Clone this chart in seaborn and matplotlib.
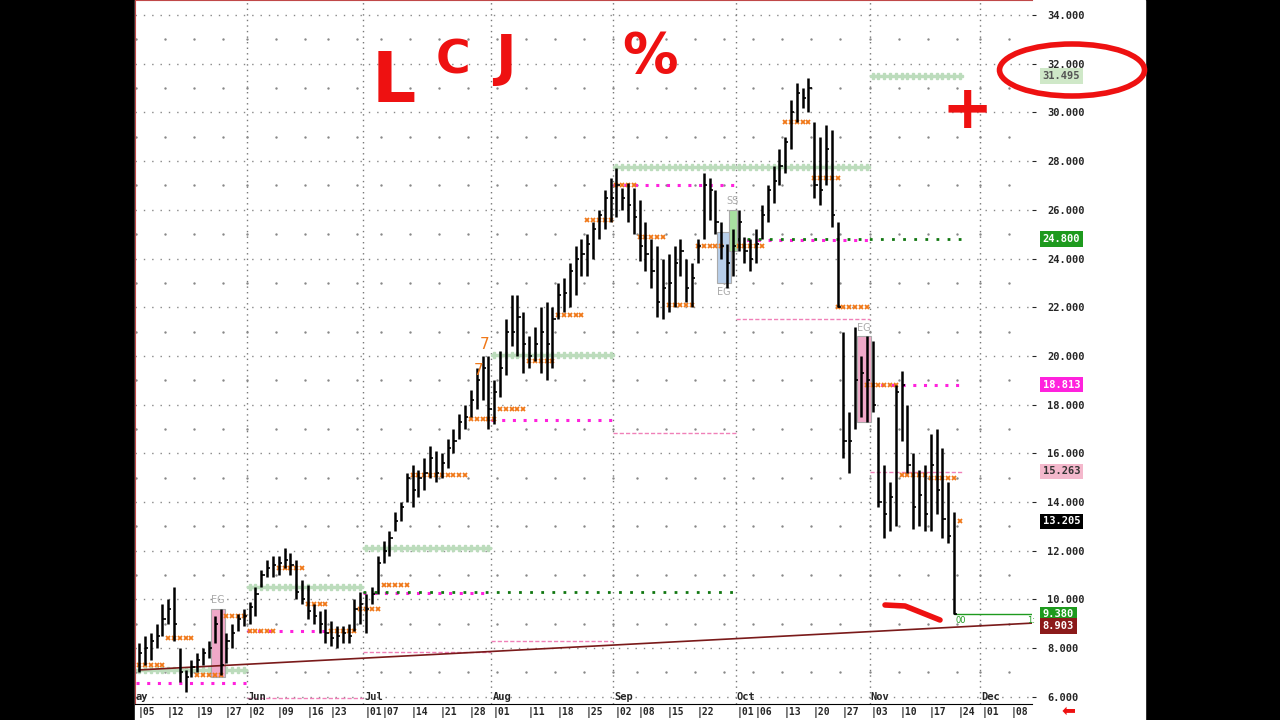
import numpy as np
import pandas as pd
import matplotlib
matplotlib.use("Agg")
import matplotlib.pyplot as plt
from matplotlib.patches import Rectangle, Ellipse
import seaborn as sns

sns.set_style("white")

# ---- data -------------------------------------------------------------
holidays = ["2025-05-26", "2025-06-19", "2025-07-04", "2025-09-01", "2025-11-27"]

# daily (high, low, close), one list per week
weeks = [
    [(8.2, 7.0, 7.8), (8.5, 7.3, 8.0), (8.6, 7.5, 8.3), (9.0, 8.0, 8.5), (9.8, 8.5, 9.2)],
    [(10.0, 9.0, 9.6), (10.5, 8.3, 9.0), (8.0, 6.6, 7.0), (7.1, 6.2, 6.8), (7.5, 6.8, 7.2)],
    [(7.8, 7.0, 7.5), (8.0, 7.3, 7.8), (8.3, 7.6, 8.0), (9.3, 8.2, 9.0), (9.6, 6.9, 7.3)],
    [(8.6, 7.4, 8.3), (9.0, 8.0, 8.6), (9.4, 8.7, 9.2), (9.6, 8.9, 9.3)],
    [(9.9, 9.0, 9.7), (10.5, 9.3, 10.2), (11.2, 10.5, 11.0), (11.6, 10.9, 11.3), (11.8, 10.9, 11.4)],
    [(11.8, 11.0, 11.5), (12.1, 11.3, 11.6), (11.9, 11.0, 11.4), (11.6, 10.0, 10.3), (10.8, 9.8, 10.0)],
    [(10.6, 9.2, 9.5), (9.8, 9.0, 9.3), (9.5, 8.6, 9.0), (9.6, 8.2, 8.6)],
    [(9.1, 8.1, 8.4), (8.9, 8.0, 8.5), (8.9, 8.2, 8.6), (9.0, 8.2, 8.5), (10.0, 8.7, 9.6)],
    [(10.3, 9.0, 9.8), (10.2, 8.6, 9.6), (10.5, 9.8, 10.2), (11.8, 10.2, 11.5)],
    [(12.4, 11.5, 12.0), (12.8, 11.8, 12.5), (13.6, 12.8, 13.2), (14.0, 13.2, 13.8), (15.2, 14.0, 15.0)],
    [(15.5, 13.8, 14.5), (15.3, 14.2, 15.0), (15.8, 14.5, 15.2), (16.3, 15.0, 15.8), (16.1, 14.8, 15.2)],
    [(16.0, 15.0, 15.6), (16.6, 15.4, 16.2), (17.0, 16.0, 16.5), (17.6, 16.6, 17.3), (18.0, 17.0, 17.5)],
    [(18.6, 17.5, 18.2), (19.5, 17.8, 19.0), (20.0, 18.2, 19.5), (20.0, 17.0, 17.8), (19.0, 17.2, 18.5)],
    [(20.2, 18.3, 19.5), (21.5, 19.2, 21.0), (22.5, 20.4, 21.0), (22.5, 20.0, 21.6), (21.8, 19.3, 20.5)],
    [(20.8, 19.5, 20.0), (21.2, 19.8, 20.5), (22.0, 19.3, 21.0), (22.2, 19.0, 20.5), (22.0, 19.5, 21.5)],
    [(23.0, 21.5, 22.5), (23.2, 21.8, 22.6), (23.8, 22.0, 23.5), (24.5, 22.5, 24.0), (24.8, 23.3, 24.2)],
    [(25.0, 23.3, 24.6), (25.5, 24.0, 25.2), (26.0, 24.8, 25.8), (26.8, 25.2, 26.5), (27.3, 25.5, 26.5)],
    [(27.7, 25.7, 27.0), (26.9, 26.0, 26.5), (27.1, 25.5, 26.2), (26.9, 25.0, 25.7)],
    [(26.4, 23.9, 24.5), (25.5, 23.5, 24.2), (24.8, 22.8, 23.5), (24.5, 21.6, 22.2), (24.0, 21.5, 22.8)],
    [(24.2, 21.8, 23.0), (24.5, 22.0, 23.8), (24.8, 23.3, 24.3), (24.0, 22.2, 22.8), (23.8, 22.0, 23.2)],
    [(24.8, 23.8, 24.5), (27.5, 24.8, 27.0), (27.3, 25.6, 26.8), (26.8, 25.0, 25.5), (25.5, 24.0, 24.5)],
    [(24.6, 22.8, 23.8), (25.2, 23.3, 24.5), (26.0, 24.3, 25.5), (24.9, 23.8, 24.3), (24.8, 23.5, 24.0)],
    [(25.2, 23.8, 24.6), (26.2, 24.8, 25.8), (27.0, 25.5, 26.8), (27.8, 26.3, 27.2), (28.5, 27.0, 27.8)],
    [(29.0, 27.5, 28.8), (30.5, 28.5, 30.0), (31.2, 29.6, 30.8), (31.0, 30.2, 30.6), (31.4, 30.0, 31.0)],
    [(29.6, 26.5, 27.0), (29.0, 26.2, 26.8), (29.5, 27.0, 28.5), (29.3, 25.3, 25.8), (25.5, 22.0, 22.0)],
    [(21.0, 15.8, 16.5), (17.7, 15.2, 16.5), (21.2, 17.0, 19.0), (20.0, 17.5, 19.3), (20.8, 17.3, 19.0)],
    [(20.6, 17.7, 18.0), (17.5, 13.8, 14.0), (15.5, 12.5, 13.5), (14.8, 12.8, 14.2), (18.8, 13.0, 18.5)],
    [(19.4, 16.5, 18.8), (18.0, 15.2, 15.5), (16.0, 12.9, 13.8), (15.3, 13.0, 14.3), (15.5, 12.8, 13.5)],
    [(16.8, 12.8, 15.5), (17.0, 13.5, 14.5), (16.2, 12.5, 13.3), (14.8, 12.3, 12.6), (13.6, 9.38, 9.38)],
]

# study levels: (start date, end date, price)
orange_x = [("2025-05-05", "2025-05-09", 7.3), ("2025-05-12", "2025-05-16", 8.4),
            ("2025-05-19", "2025-05-23", 6.9), ("2025-05-27", "2025-05-30", 9.3),
            ("2025-06-02", "2025-06-06", 8.7), ("2025-06-09", "2025-06-13", 11.3),
            ("2025-06-16", "2025-06-20", 9.8), ("2025-06-23", "2025-06-27", 8.7),
            ("2025-06-30", "2025-07-03", 9.6), ("2025-07-07", "2025-07-11", 10.6),
            ("2025-07-14", "2025-07-25", 15.1), ("2025-07-28", "2025-08-01", 17.4),
            ("2025-08-04", "2025-08-08", 17.8), ("2025-08-11", "2025-08-15", 19.8),
            ("2025-08-18", "2025-08-22", 21.7), ("2025-08-25", "2025-08-29", 25.6),
            ("2025-09-02", "2025-09-05", 27.0), ("2025-09-08", "2025-09-12", 24.9),
            ("2025-09-15", "2025-09-19", 22.1), ("2025-09-22", "2025-09-26", 24.5),
            ("2025-10-01", "2025-10-07", 24.5), ("2025-10-13", "2025-10-17", 29.6),
            ("2025-10-20", "2025-10-24", 27.3), ("2025-10-24", "2025-10-31", 22.0),
            ("2025-10-31", "2025-11-07", 18.8), ("2025-11-10", "2025-11-14", 15.1),
            ("2025-11-17", "2025-11-21", 15.0), ("2025-11-24", "2025-11-24", 13.2)]
green_plus = [("2025-05-05", "2025-05-30", 7.1), ("2025-06-02", "2025-06-30", 10.5),
              ("2025-07-01", "2025-07-31", 12.1), ("2025-08-01", "2025-08-29", 20.05),
              ("2025-09-02", "2025-09-30", 27.75), ("2025-10-01", "2025-10-31", 27.75),
              ("2025-11-03", "2025-11-24", 31.5)]
magenta_dot = [("2025-05-05", "2025-05-30", 6.55), ("2025-06-02", "2025-06-20", 8.7),
               ("2025-07-01", "2025-07-31", 10.25), ("2025-08-01", "2025-08-29", 17.35),
               ("2025-09-02", "2025-09-30", 27.0), ("2025-10-01", "2025-10-31", 24.75),
               ("2025-11-03", "2025-11-24", 18.8)]
darkgreen_dot = [("2025-07-01", "2025-09-30", 10.3), ("2025-10-01", "2025-11-24", 24.8)]
pink_dash = [("2025-06-02", "2025-06-30", 5.95), ("2025-07-01", "2025-07-31", 7.85),
             ("2025-08-01", "2025-08-29", 8.3), ("2025-09-02", "2025-09-30", 16.85),
             ("2025-10-01", "2025-10-31", 21.5), ("2025-11-03", "2025-11-24", 15.25)]
trend = [("2025-05-05", 7.1), ("2025-12-12", 9.03)]

# boxes: (start date, end date, low, high, colour, label, label on top)
boxes = [("2025-05-22", "2025-05-23", 6.8, 9.6, "#f0a8c8", "EG", True),
         ("2025-09-26", "2025-09-29", 23.0, 25.1, "#b8cfea", "EG", False),
         ("2025-09-30", "2025-09-30", 24.3, 26.0, "#a8e0a0", "SS", True),
         ("2025-10-30", "2025-10-31", 17.3, 20.8, "#f0a8c8", "EG", True)]

right_tags = [(31.495, "#cfe8c8", "#555555"), (24.800, "#1e9a1e", "white"),
              (18.813, "#ff22dd", "white"), (15.263, "#f4b8cc", "#333333"),
              (13.205, "black", "white"), (9.380, "#1e9a1e", "white"),
              (8.903, "#8b1a1a", "white")]

# ---- index helpers ---------------------------------------------------
all_days = pd.bdate_range("2025-05-05", "2025-12-12")
all_days = all_days[~all_days.isin(pd.to_datetime(holidays))]
pos = {d: i for i, d in enumerate(all_days)}
bars = [b for w in weeks for b in w]
n = len(bars)
df = pd.DataFrame(bars, columns=["high", "low", "close"])
df["i"] = np.arange(n)


def ix(s):
    d = pd.Timestamp(s)
    if d in pos:
        return pos[d]
    return all_days.searchsorted(d)


# ---- figure ----------------------------------------------------------
W, H = 1280, 720
fig = plt.figure(figsize=(12.8, 7.2), dpi=100, facecolor="black")
fig.patches.append(Rectangle((135 / W, 0), (1145 - 135) / W, 1, transform=fig.transFigure,
                             facecolor="white", zorder=-10))
ax = fig.add_axes([135 / W, 16 / H, (1032 - 135) / W, 704 / H])
ax.set_facecolor("white")
ax.set_xlim(-0.7, 153.4)
ax.set_ylim(5.7, 34.62)

# grid
for y in range(6, 35, 2):
    ax.axhline(y, color="#888888", lw=1, ls=(0, (1, 5)), zorder=1)
week_starts = [i for i, d in enumerate(all_days) if i == 0 or d.weekday() < all_days[i - 1].weekday()]
month_starts = [i for i, d in enumerate(all_days) if i > 0 and d.month != all_days[i - 1].month]
for m in month_starts:
    ax.axvline(m - 0.5, color="#777777", lw=1, ls=(0, (1, 3)), zorder=1)
gx, gy = np.meshgrid(np.array(week_starts) - 0.5, np.arange(7, 34, 2))
sns.scatterplot(x=gx.ravel(), y=gy.ravel(), ax=ax, color="#888888", s=3, linewidth=0, zorder=1)

# levels
for a, b, p in green_plus:
    xs = np.arange(ix(a), ix(b) + 1)
    ax.plot(xs, np.full(len(xs), p), ls="none", marker="P", ms=4, color="#bcdcbc", zorder=2)
for a, b, p in magenta_dot:
    ax.hlines(p, ix(a) - 0.5, ix(b) + 0.5, color="#ff22dd", lw=2.2, ls=(0, (1, 2.5)), zorder=2)
for a, b, p in darkgreen_dot:
    ax.hlines(p, ix(a) - 0.5, ix(b) + 0.5, color="#117711", lw=2, ls=(0, (1, 3)), zorder=2)
for a, b, p in pink_dash:
    ax.hlines(p, ix(a) - 0.5, ix(b) + 0.5, color="#f080b8", lw=1, ls=(0, (3, 1.5)), zorder=2)
for a, b, p in orange_x:
    xs = np.arange(ix(a), ix(b) + 1)
    ax.plot(xs, np.full(len(xs), p), ls="none", marker="x", ms=3, mew=1.3, color="#f07818", zorder=4)

# trend line
tdf = pd.DataFrame({"i": [ix(t[0]) for t in trend], "p": [t[1] for t in trend]})
sns.lineplot(data=tdf, x="i", y="p", ax=ax, color="#7a1a1a", lw=1.2, zorder=3)
ax.set_xlabel("")
ax.set_ylabel("")

# boxes
for a, b, lo, hi, c, lab, top in boxes:
    x0, x1 = ix(a) - 0.7, ix(b) + 0.7
    ax.add_patch(Rectangle((x0, lo), x1 - x0, hi - lo, facecolor=c, edgecolor="#aaaaaa",
                           lw=0.8, zorder=2.5))
    ax.text((x0 + x1) / 2, hi + 0.15 if top else lo - 0.15, lab, color="#aaaaaa", fontsize=7,
            ha="center", va="bottom" if top else "top", zorder=5)

# bars
ax.vlines(df["i"], df["low"], df["high"], color="black", lw=1.8, zorder=5)
ax.hlines(df["close"], df["i"], df["i"] + 0.55, color="black", lw=1.2, zorder=5)
ax.hlines(9.38, n - 1, 153.4, color="#1e9a1e", lw=1, zorder=4)
ax.text(n - 0.8, 9.3, "00", color="#1e9a1e", fontsize=6, va="top")
ax.text(152.6, 9.3, "1:", color="#1e9a1e", fontsize=6, va="top")
ax.text(ix("2025-07-30") + 0.3, 20.3, "7", color="#f07818", fontsize=11, ha="center", zorder=6)
ax.text(ix("2025-07-29") + 0.3, 19.2, "7", color="#f07818", fontsize=11, ha="center", zorder=6)

# axes styling
for s in ax.spines.values():
    s.set_visible(False)
ax.spines["left"].set_visible(True)
ax.spines["left"].set_color("#c04848")
ax.spines["top"].set_visible(True)
ax.spines["top"].set_color("#c04848")
ax.spines["bottom"].set_visible(True)
ax.spines["bottom"].set_color("black")
ax.yaxis.tick_right()
ax.set_yticks(np.arange(6, 35, 2))
ax.set_yticklabels([f"{v:.3f}" for v in np.arange(6, 35, 2)], family="DejaVu Sans Mono",
                   fontsize=7.5, fontweight="bold")
ax.tick_params(axis="y", length=3, pad=8)
ax.set_xticks([])
for p, fc, tc in right_tags:
    ax.text(1.012, p, f"{p:.3f}", transform=ax.get_yaxis_transform(), ha="left", va="center",
            family="DejaVu Sans Mono", fontsize=7.5, fontweight="bold", color=tc,
            bbox=dict(boxstyle="square,pad=0.25", fc=fc, ec="none"), zorder=6, clip_on=False)

# date labels: month starts win over week starts close to them
labels = list(month_starts) + [w for w in week_starts
                               if all(abs(w - m) > 2 for m in month_starts)]
for w in sorted(labels):
    ax.text(w - 0.3, -0.004, f"|{all_days[w].day:02d}", transform=ax.get_xaxis_transform(),
            ha="left", va="top", family="DejaVu Sans Mono", fontsize=7, fontweight="bold",
            clip_on=False)
ax.text(-0.7, 0.003, "ay", transform=ax.get_xaxis_transform(), ha="left", va="bottom",
        family="DejaVu Sans Mono", fontsize=7.5, fontweight="bold")
for m in month_starts:
    ax.text(m - 0.3, 0.003, all_days[m].strftime("%b"), transform=ax.get_xaxis_transform(),
            ha="left", va="bottom", family="DejaVu Sans Mono", fontsize=7.5, fontweight="bold")

# hand-drawn red notes
red = "#ee1111"
fig.text(372 / W, 1 - 102 / H, "L", color=red, fontsize=50, family="DejaVu Sans", fontweight="bold")
fig.text(436 / W, 1 - 74 / H, "C", color=red, fontsize=34, family="DejaVu Sans", fontweight="bold")
fig.text(495 / W, 1 - 74 / H, "J", color=red, fontsize=40, family="DejaVu Sans", fontweight="bold")
fig.text(622 / W, 1 - 72 / H, "%", color=red, fontsize=40, family="DejaVu Sans", fontweight="bold")
fig.text(942 / W, 1 - 128 / H, "+", color=red, fontsize=44, family="DejaVu Sans", fontweight="bold")
fig.patches.append(Ellipse((1072 / W, 1 - 70 / H), 145 / W, 52 / H, transform=fig.transFigure,
                           fill=False, ec=red, lw=4, zorder=10))
fig.lines.append(plt.Line2D([885 / W, 905 / W, 940 / W], [1 - 605 / H, 1 - 606 / H, 1 - 620 / H],
                            transform=fig.transFigure, color=red, lw=4, solid_capstyle="round"))
fig.text(1068 / W, 1 - 711 / H, "⬅", color=red, fontsize=12, ha="center", va="center")

fig.savefig("out.png", dpi=100, facecolor="black")
